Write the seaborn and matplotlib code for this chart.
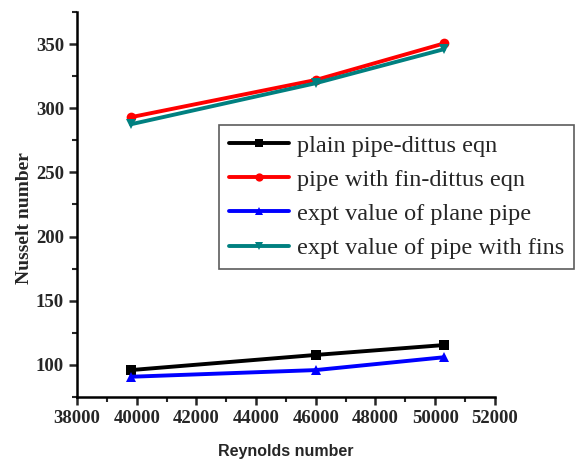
import pandas as pd
import matplotlib
matplotlib.use("Agg")
import matplotlib.pyplot as plt
import seaborn as sns
from matplotlib.ticker import MultipleLocator

# Reynolds number at the three test points
reynolds = [39800, 46000, 50300]

plain_dittus = [96, 107.8, 115.5]
fin_dittus = [293, 322, 350.5]
expt_plain = [90.8, 96, 106]
expt_fins = [287.5, 319.5, 346]

labels = ["plain pipe-dittus eqn", "pipe with fin-dittus eqn",
          "expt value of plane pipe", "expt value of pipe with fins"]
colors = ["#000000", "#FF0000", "#0000FF", "#008080"]
markers = ["s", "o", "^", "v"]

rows = []
for lab, vals in zip(labels, [plain_dittus, fin_dittus, expt_plain, expt_fins]):
    for re_, nu in zip(reynolds, vals):
        rows.append({"Re": re_, "Nu": nu, "series": lab})
df = pd.DataFrame(rows)

sns.set_style("ticks")
plt.rcParams["font.family"] = ["Liberation Serif", "DejaVu Serif"]

fig = plt.figure(figsize=(5.76, 4.59), dpi=100)
ax = fig.add_axes([0.134, 0.135, 0.725, 0.839])

sns.lineplot(data=df, x="Re", y="Nu", hue="series", style="series",
             hue_order=labels, style_order=labels,
             palette=colors, markers=markers, dashes=False,
             linewidth=2.8, markersize=7, markeredgewidth=0, ax=ax)

ax.set_xlim(38000, 52000)
ax.set_ylim(75, 375)
ax.xaxis.set_major_locator(MultipleLocator(2000))
ax.xaxis.set_minor_locator(MultipleLocator(1000))
ax.yaxis.set_minor_locator(MultipleLocator(25))
ax.set_yticks([100, 150, 200, 250, 300, 350])

for s in ["top", "right"]:
    ax.spines[s].set_visible(False)
for s in ["left", "bottom"]:
    ax.spines[s].set_linewidth(1.8)
    ax.spines[s].set_color("black")

ax.tick_params(which="major", length=6, width=1.8, direction="out", labelsize=13.5)
ax.tick_params(which="minor", length=3.5, width=1.5, direction="out")
for t in ax.get_xticklabels() + ax.get_yticklabels():
    t.set_fontweight("bold")

ax.set_xlabel("Reynolds number", fontsize=11.5, fontweight="bold",
              family=["Liberation Sans", "DejaVu Sans"], labelpad=12)
ax.set_ylabel("Nusselt number", fontsize=14, fontweight="bold")
ax.yaxis.set_label_coords(-0.105, 0.465)

leg = ax.legend(loc="upper left", bbox_to_anchor=(0.38, 0.728),
                bbox_transform=fig.transFigure, borderaxespad=0,
                fontsize=17.5, frameon=True, fancybox=False, handlelength=2.5,
                handletextpad=0.3, labelspacing=0.5, borderpad=0.4,
                markerscale=0.85)
leg.get_frame().set_edgecolor("#333333")
leg.get_frame().set_linewidth(1.2)

fig.savefig("out.png", dpi=100)
